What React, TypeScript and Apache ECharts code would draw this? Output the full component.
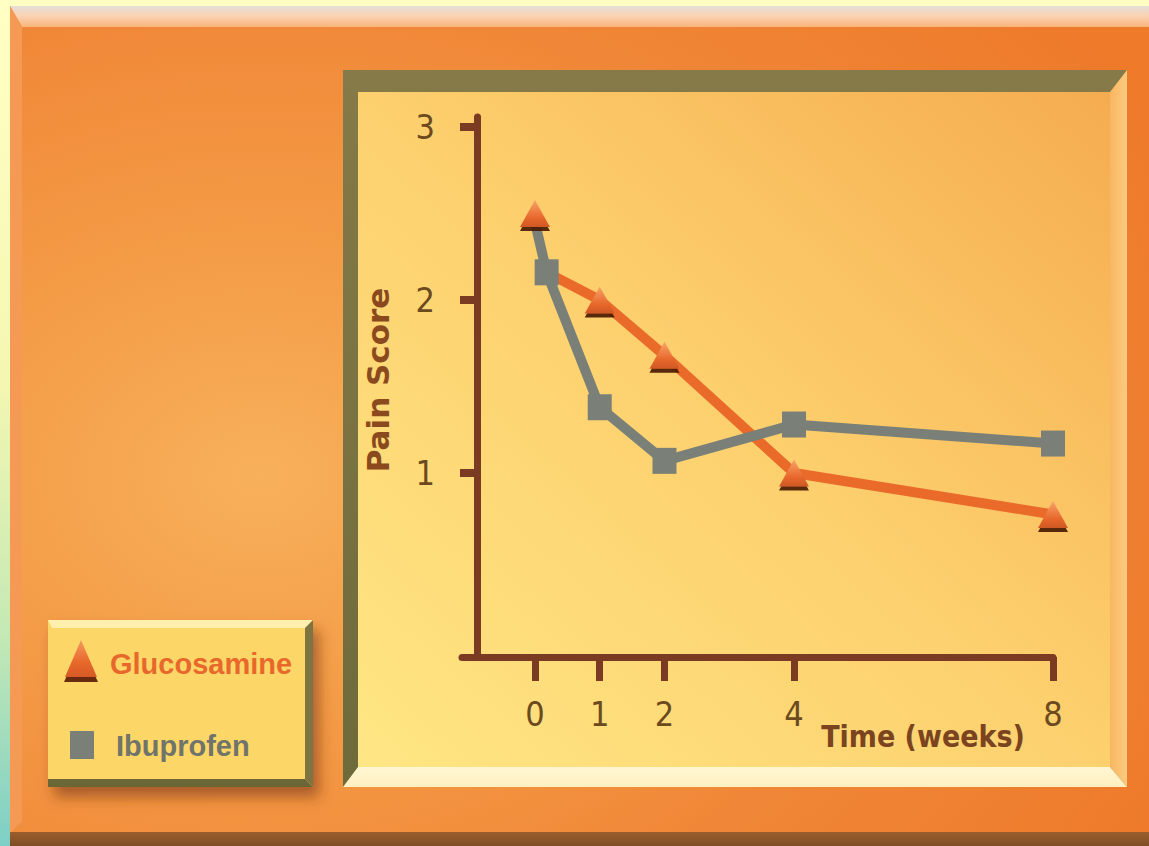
import React, { useEffect, useRef } from "react";
import * as echarts from "echarts";

// ---- data ----
const weeks = [0, 1, 2, 4, 8];
const glucosamine = [2.5, 2.0, 1.68, 1.0, 0.76];
const ibuprofenWeeks = [0.18, 1, 2, 4, 8];
const ibuprofen = [2.16, 1.38, 1.07, 1.28, 1.17];
const ibuprofenLineStart = [0, 2.45];
const xTickValues = [0, 1, 2, 4, 8];
const yTickValues = [1, 2, 3];
const seriesNames = ["Glucosamine", "Ibuprofen"];
const xAxisName = "Time (weeks)";
const yAxisName = "Pain Score";

const AXIS = "#7B3A22";
const LABEL = "#6B4A20";
const ORANGE = "#EA6A2A";
const GREY = "#7A8077";
const NARROW = "'Liberation Sans Narrow', 'DejaVu Sans Condensed', 'Roboto Condensed', sans-serif";

export default function App() {
  const ref = useRef<HTMLDivElement>(null);
  useEffect(() => {
    if (!ref.current) return;
    const chart = echarts.init(ref.current, undefined, { renderer: "svg" });

    const gMarkers = weeks.map((w, i) => [w, glucosamine[i]]);
    const iMarkers = ibuprofenWeeks.map((w, i) => [w, ibuprofen[i]]);
    const gLine = [[ibuprofenWeeks[0], ibuprofen[0]], ...gMarkers.slice(1)];
    const iLine = [ibuprofenLineStart, ...iMarkers];

    const lin = (x2: number, y2: number, stops: [number, string][], x = 0, y = 0) => ({
      type: "linear", x, y, x2, y2,
      colorStops: stops.map(([offset, color]) => ({ offset, color })),
    });

    const graphic: any[] = [
      { type: "rect", z: -100, shape: { x: 0, y: 0, width: 1149, height: 846 }, style: { fill: "#FFFFC4" } },
      { type: "rect", z: -99, shape: { x: 0, y: 0, width: 10, height: 846 },
        style: { fill: lin(0, 1, [[0, "#FFFFC4"], [0.45, "#F4F7B2"], [0.75, "#C4E9B4"], [1, "#7DCFC6"]]) } },
      { type: "rect", z: -98, shape: { x: 10, y: 6, width: 1139, height: 840 },
        style: { fill: { type: "radial", x: 0.22, y: 0.56, r: 0.9,
          colorStops: [{ offset: 0, color: "#F8B05A" }, { offset: 0.3, color: "#F49C47" }, { offset: 0.65, color: "#F08637" }, { offset: 1, color: "#EE7A2A" }] } } },
      { type: "polygon", z: -97, shape: { points: [[10, 6], [1149, 6], [1149, 27], [22, 27]] },
        style: { fill: lin(0, 1, [[0, "#E6DED8"], [0.5, "#FAD2B0"], [1, "#F8B47A"]]) } },
      { type: "polygon", z: -97, shape: { points: [[10, 6], [22, 27], [22, 822], [10, 833]] },
        style: { fill: "#F49A55" } },
      { type: "rect", z: -97, shape: { x: 10, y: 832, width: 1139, height: 14 },
        style: { fill: lin(0, 1, [[0, "#9A5E2C"], [1, "#7E4E26"]]) } },
      // inner panel frame
      { type: "rect", z: -96, shape: { x: 343, y: 70, width: 784, height: 717 },
        style: { fill: lin(0, 1, [[0, "#857A48"], [1, "#6E6A3A"]]) } },
      { type: "polygon", z: -95, shape: { points: [[1110, 92], [1127, 70], [1127, 787], [1110, 767]] },
        style: { fill: lin(1, 0, [[0, "#F9B660"], [1, "#FCCB80"]]) } },
      { type: "polygon", z: -95, shape: { points: [[358, 767], [1110, 767], [1127, 787], [343, 787]] },
        style: { fill: lin(0, 1, [[0, "#FFF6D2"], [1, "#FFF0C0"]]) } },
      { type: "rect", z: -94, shape: { x: 358, y: 92, width: 752, height: 675 },
        style: { fill: lin(1, 0, [[0, "#FFE684"], [0.5, "#FDD06E"], [1, "#F5AC50"]], 0, 1) } },
      // legend box
      { type: "rect", z: 10, shape: { x: 48, y: 620, width: 265, height: 167 },
        style: { fill: "#FCD767", shadowBlur: 14, shadowColor: "rgba(110,50,10,0.55)", shadowOffsetX: 6, shadowOffsetY: 10 } },
      { type: "polygon", z: 11, shape: { points: [[48, 620], [313, 620], [305, 628], [52, 628]] },
        style: { fill: "#FFEFAE" } },
      { type: "polygon", z: 11, shape: { points: [[305, 628], [313, 620], [313, 787], [305, 779]] },
        style: { fill: "#7E7442" } },
      { type: "polygon", z: 11, shape: { points: [[48, 779], [305, 779], [313, 787], [48, 787]] },
        style: { fill: "#6A6636" } },
      { type: "polygon", z: 12, shape: { points: [[64, 682], [81, 645], [98, 682]] },
        style: { fill: "#6A2A10" } },
      { type: "polygon", z: 13, shape: { points: [[65, 677], [81, 640], [97, 677]] },
        style: { fill: lin(0, 1, [[0, "#F59A60"], [0.6, "#E8682C"], [1, "#D65A24"]]) } },
      { type: "rect", z: 13, shape: { x: 70, y: 731, width: 24, height: 28 }, style: { fill: GREY } },
      { type: "text", z: 13, x: 110, y: 664,
        style: { text: seriesNames[0], fill: "#E8682C", font: "bold 29px 'Liberation Sans', Arial, sans-serif", verticalAlign: "middle" } },
      { type: "text", z: 13, x: 116, y: 746,
        style: { text: seriesNames[1], fill: "#70746A", font: "bold 29px 'Liberation Sans', Arial, sans-serif", verticalAlign: "middle" } },
    ];

    const option: any = {
      animation: false,
      grid: { left: 462, top: 117, width: 591, height: 540, outerBoundsMode: "none", containLabel: false },
      xAxis: {
        type: "value", min: -1.127, max: 8,
        splitLine: { show: false },
        axisLine: { onZero: false, lineStyle: { color: AXIS, width: 7 } },
        axisTick: { customValues: xTickValues, length: 24, lineStyle: { color: AXIS, width: 7 } },
        axisLabel: { customValues: xTickValues, margin: 40, fontSize: 34, fontFamily: NARROW, color: LABEL },
        name: xAxisName, nameLocation: "middle", nameGap: 64, nameMoveOverlap: false,
        nameTextStyle: { align: "center", verticalAlign: "top", padding: [0, 0, 0, 331], fontSize: 30, fontWeight: "bold", fontFamily: NARROW, color: "#7A4420" },
      },
      yAxis: {
        type: "value", min: -0.064, max: 3.058, offset: -15,
        splitLine: { show: false },
        axisLine: { show: true, onZero: false, lineStyle: { color: AXIS, width: 7 } },
        axisTick: { show: true, customValues: yTickValues, length: 17, lineStyle: { color: AXIS, width: 8 } },
        axisLabel: { customValues: yTickValues, margin: 42, fontSize: 34, fontFamily: NARROW, color: LABEL },
        name: yAxisName, nameLocation: "middle", nameGap: 84, nameRotate: 90, nameMoveOverlap: false,
        nameTextStyle: { fontSize: 31, fontWeight: "bold", fontFamily: "'DejaVu Sans', sans-serif", color: "#8A4A1E", padding: [0, 0, 0, 14] },
      },
      series: [
        { name: seriesNames[0] + " line", type: "line", data: gLine, showSymbol: false, z: 3,
          lineStyle: { color: ORANGE, width: 10 } },
        { name: seriesNames[1] + " line", type: "line", data: iLine, showSymbol: false, z: 4,
          lineStyle: { color: GREY, width: 10 } },
        { name: seriesNames[0], type: "scatter", data: gMarkers, symbol: "triangle", symbolSize: [30, 27], z: 6,
          itemStyle: { color: lin(0, 1, [[0, "#F9A56A"], [0.65, "#E8682C"], [1, "#CF5824"]]), shadowColor: "rgba(70,25,5,0.9)", shadowBlur: 1, shadowOffsetY: 4, opacity: 1 } },
        { name: seriesNames[1], type: "scatter", data: iMarkers, symbol: "rect", symbolSize: [24, 26], z: 5,
          itemStyle: { color: GREY, opacity: 1 } },
      ],
      graphic,
    };
    chart.setOption(option);
    return () => chart.dispose();
  }, []);
  return <div ref={ref} style={{ position: "absolute", left: 0, top: 0, width: 1149, height: 846 }} />;
}
